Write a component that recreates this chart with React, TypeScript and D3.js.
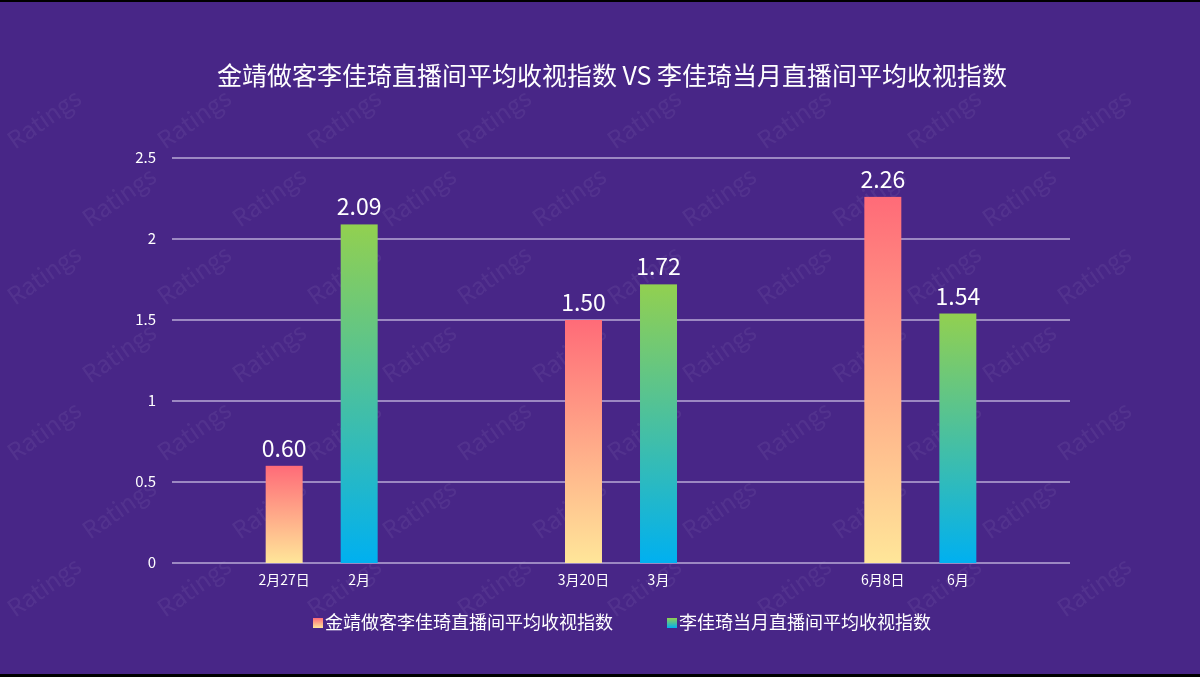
import { useEffect, useRef } from 'react';
import * as d3 from 'd3';

const groups = ['2月', '3月', '6月'];
const guestLabels = ['2月27日', '3月20日', '6月8日'];
const monthLabels = ['2月', '3月', '6月'];
const guestValues = [0.6, 1.5, 2.26];
const monthValues = [2.09, 1.72, 1.54];
const seriesNames = ['金靖做客李佳琦直播间平均收视指数', '李佳琦当月直播间平均收视指数'];
const yTicks = [0, 0.5, 1, 1.5, 2, 2.5];

const W = 1200;
const H = 677;
const FONT = '"Noto Sans CJK SC", "Noto Sans", sans-serif';

export default function App() {
  const svgRef = useRef<SVGSVGElement>(null);

  useEffect(() => {
    if (!svgRef.current) return;
    const svg = d3.select(svgRef.current);
    svg.selectAll('*').remove();

    const margin = { top: 158, right: 130, bottom: 114, left: 172 };
    const width = W - margin.left - margin.right;
    const height = H - margin.top - margin.bottom;

    const defs = svg.append('defs');
    const grad1 = defs.append('linearGradient').attr('id', 'g1')
      .attr('x1', '0%').attr('y1', '0%').attr('x2', '0%').attr('y2', '100%');
    grad1.append('stop').attr('offset', '0%').attr('stop-color', '#ff6b78');
    grad1.append('stop').attr('offset', '100%').attr('stop-color', '#ffe699');
    const grad2 = defs.append('linearGradient').attr('id', 'g2')
      .attr('x1', '0%').attr('y1', '0%').attr('x2', '0%').attr('y2', '100%');
    grad2.append('stop').attr('offset', '0%').attr('stop-color', '#92d050');
    grad2.append('stop').attr('offset', '100%').attr('stop-color', '#00b0f0');

    // background
    svg.append('rect').attr('width', W).attr('height', H).attr('fill', '#482687');
    svg.append('rect').attr('width', W).attr('height', 2).attr('fill', '#000');
    svg.append('rect').attr('y', H - 3).attr('width', W).attr('height', 3).attr('fill', '#000');

    // watermark, kept inside the frame
    const wm = svg.append('g').attr('opacity', 0.06);
    for (let k = 0; k < 8; k++) {
      for (let i = 0; i < 8; i++) {
        const x = 15 + 150 * i + (k % 2) * 75;
        const y = 150 + 78 * k;
        if (x + 100 > W - 5 || y > H - 10) continue;
        wm.append('text')
          .attr('transform', `translate(${x},${y}) rotate(-35)`)
          .attr('fill', '#fff')
          .style('font-family', FONT)
          .style('font-size', '24px')
          .text('Ratings');
      }
    }

    const g = svg.append('g').attr('transform', `translate(${margin.left},${margin.top})`);

    const x0 = d3.scaleBand().domain(groups).range([0, width]);
    const x1 = d3.scaleBand().domain(['0', '1']).range([-56, 56]).paddingInner(0.507).paddingOuter(0);
    const y = d3.scaleLinear().domain([0, 2.5]).range([height, 0]);

    // grid
    g.selectAll('.grid').data(yTicks).enter().append('line')
      .attr('x1', 0).attr('x2', width)
      .attr('y1', d => y(d)).attr('y2', d => y(d))
      .attr('stroke', '#b8aad6').attr('stroke-width', 1.5);

    g.selectAll('.ytick').data(yTicks).enter().append('text')
      .attr('x', -16).attr('y', d => y(d)).attr('dy', '0.35em')
      .attr('text-anchor', 'end').attr('fill', '#fff')
      .style('font-family', FONT).style('font-size', '15px')
      .text(d => String(d));

    const series = [
      { key: '0', values: guestValues, labels: guestLabels, fill: 'url(#g1)' },
      { key: '1', values: monthValues, labels: monthLabels, fill: 'url(#g2)' },
    ];

    series.forEach(s => {
      groups.forEach((grp, i) => {
        const cx = x0(grp)! + x0.bandwidth() / 2 + x1(s.key)!;
        const v = s.values[i];
        g.append('rect')
          .attr('x', cx).attr('y', y(v))
          .attr('width', x1.bandwidth()).attr('height', y(0) - y(v))
          .attr('fill', s.fill);
        g.append('text')
          .attr('x', cx + x1.bandwidth() / 2).attr('y', y(v) - 9)
          .attr('text-anchor', 'middle').attr('fill', '#fff')
          .style('font-family', FONT).style('font-size', '23px')
          .text(v.toFixed(2));
        g.append('text')
          .attr('x', cx + x1.bandwidth() / 2).attr('y', height + 22)
          .attr('text-anchor', 'middle').attr('fill', '#fff')
          .style('font-family', FONT).style('font-size', '14px')
          .text(s.labels[i]);
      });
    });

    // title
    svg.append('text')
      .attr('x', 612).attr('y', 85)
      .attr('text-anchor', 'middle').attr('fill', '#fff')
      .style('font-family', FONT).style('font-size', '25px')
      .text('金靖做客李佳琦直播间平均收视指数 VS 李佳琦当月直播间平均收视指数');

    // legend
    const legendX = [313, 667];
    series.forEach((s, i) => {
      const lg = svg.append('g').attr('transform', `translate(${legendX[i]},623)`);
      lg.append('rect').attr('x', 0).attr('y', -5).attr('width', 10).attr('height', 10).attr('fill', s.fill);
      lg.append('text').attr('x', 12).attr('y', 0).attr('dy', '0.35em')
        .attr('fill', '#fff')
        .style('font-family', FONT).style('font-size', '18px')
        .text(seriesNames[i]);
    });
  }, []);

  return (
    <div style={{ position: 'fixed', left: 0, top: 0 }}>
      <svg ref={svgRef} width={W} height={H} style={{ display: 'block' }} />
    </div>
  );
}
